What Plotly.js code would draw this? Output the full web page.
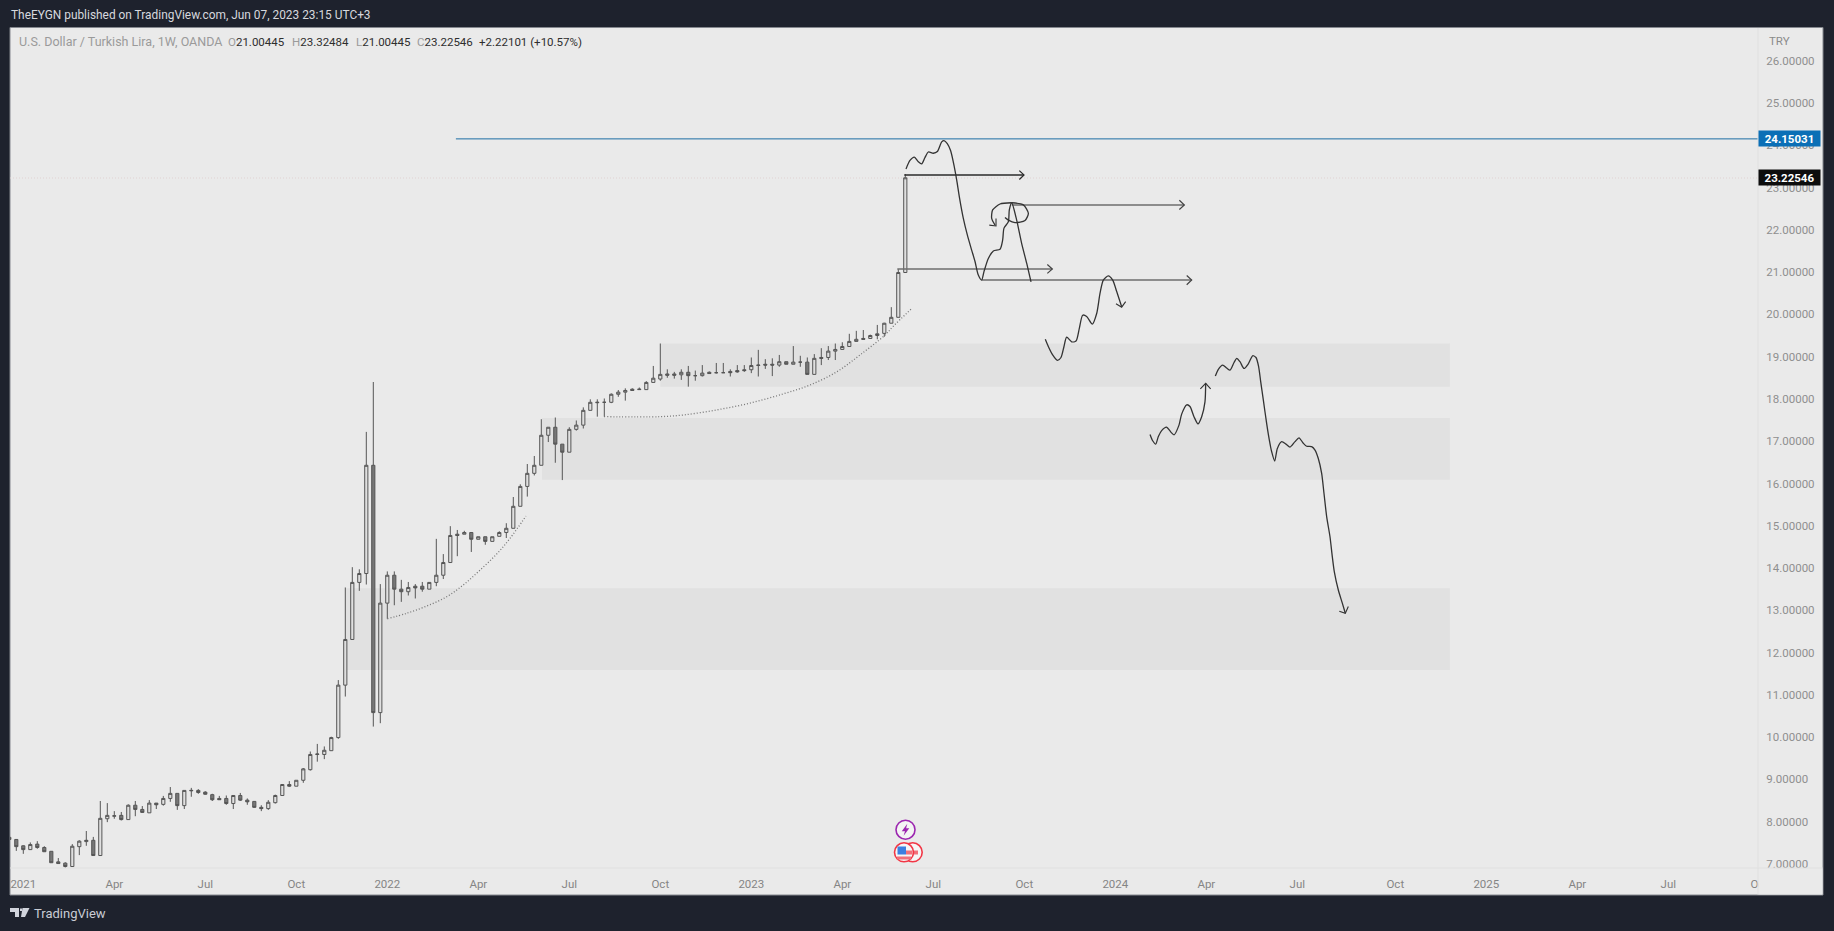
<!DOCTYPE html>
<html><head><meta charset="utf-8">
<script src="https://cdn.plot.ly/plotly-3.0.1.min.js"></script>
<style>html,body{margin:0;padding:0;background:#1e222d;overflow:hidden}#c{width:1834px;height:931px}</style>
</head><body><div id="c"></div>
<script>
// Weekly USD/TRY candles, week -1 (Dec 2020) to week 127 (Jun 2023)
const firstWeek = -1;
const open = [7.63,7.58,7.43,7.34,7.47,7.39,7.30,7.05,7.02,6.94,7.41,7.53,7.56,7.20,8.07,8.13,8.15,8.05,8.39,8.29,8.21,8.44,8.41,8.55,8.67,8.38,8.73,8.74,8.70,8.64,8.55,8.55,8.43,8.62,8.51,8.48,8.34,8.31,8.45,8.62,8.88,8.84,8.98,9.23,9.59,9.59,9.68,9.99,11.23,12.31,13.66,13.87,16.43,10.58,13.17,13.83,13.50,13.44,13.57,13.57,13.50,13.66,13.83,14.13,14.80,14.80,14.84,14.68,14.74,14.63,14.75,14.84,14.94,15.46,15.93,16.24,16.43,17.14,17.33,16.93,16.74,17.28,17.38,17.73,17.91,17.92,17.92,18.11,18.16,18.23,18.22,18.22,18.39,18.47,18.59,18.59,18.57,18.63,18.55,18.55,18.63,18.62,18.62,18.65,18.67,18.69,18.69,18.79,18.82,18.82,18.80,18.88,18.82,18.87,18.87,18.58,18.98,18.98,19.13,19.17,19.24,19.36,19.43,19.43,19.50,19.55,19.79,19.93,20.99];
const high = [7.63,7.58,7.44,7.51,7.54,7.42,7.30,7.14,7.04,7.47,7.56,7.78,7.64,8.49,8.44,8.25,8.23,8.41,8.49,8.37,8.51,8.44,8.61,8.82,8.67,8.74,8.80,8.77,8.72,8.66,8.61,8.62,8.62,8.68,8.55,8.48,8.39,8.51,8.64,8.88,8.96,8.98,9.27,9.66,9.84,9.78,10.01,11.35,13.54,14.02,13.97,17.22,18.40,13.62,13.92,13.92,13.72,13.67,13.62,13.67,13.66,14.69,14.33,14.99,14.90,14.88,14.84,14.74,14.74,14.74,14.87,15.06,15.68,15.98,16.46,16.65,17.52,17.33,17.56,16.93,17.33,17.49,17.80,17.99,17.99,18.01,18.13,18.21,18.25,18.25,18.27,18.42,18.78,19.31,18.70,18.64,18.70,18.78,18.67,18.80,18.65,18.85,18.85,18.70,18.80,18.80,18.98,19.16,18.94,18.96,19.04,18.88,19.25,19.02,18.98,19.06,19.20,19.25,19.31,19.34,19.54,19.61,19.63,19.52,19.75,19.80,20.17,21.07,23.32];
const low = [7.58,7.31,7.24,7.34,7.36,7.29,7.03,7.01,6.91,6.93,7.21,7.43,7.20,7.19,7.99,8.07,8.03,8.05,8.13,8.21,8.21,8.30,8.38,8.47,8.28,8.30,8.59,8.66,8.64,8.49,8.52,8.40,8.30,8.49,8.40,8.33,8.25,8.28,8.43,8.62,8.82,8.84,8.92,9.21,9.42,9.48,9.68,9.96,10.96,12.31,13.46,13.61,10.25,10.33,12.80,13.12,13.20,13.35,13.28,13.44,13.50,13.57,13.74,14.13,14.28,14.80,14.38,14.68,14.55,14.63,14.75,14.71,14.94,15.46,15.69,16.19,16.43,16.98,16.49,16.08,16.74,17.25,17.30,17.73,17.58,17.58,17.90,18.05,17.96,18.20,18.22,18.22,18.39,18.43,18.50,18.48,18.45,18.29,18.43,18.53,18.60,18.60,18.62,18.53,18.62,18.64,18.61,18.53,18.71,18.54,18.76,18.82,18.82,18.76,18.58,18.58,18.80,18.92,18.92,19.17,19.24,19.36,19.41,19.43,19.41,19.47,19.79,19.93,21.00];
const close = [7.58,7.41,7.34,7.46,7.39,7.29,7.03,7.01,6.94,7.42,7.54,7.56,7.20,8.08,8.15,8.14,8.05,8.39,8.29,8.22,8.44,8.40,8.55,8.67,8.38,8.74,8.74,8.69,8.65,8.52,8.52,8.43,8.62,8.51,8.47,8.34,8.31,8.46,8.62,8.88,8.84,8.98,9.25,9.59,9.60,9.69,9.99,11.23,12.31,13.66,13.87,16.43,10.58,13.17,13.83,13.50,13.44,13.54,13.53,13.50,13.66,13.83,14.13,14.77,14.77,14.84,14.68,14.74,14.63,14.74,14.84,14.94,15.46,15.93,16.24,16.43,17.14,17.33,16.93,16.74,17.28,17.38,17.73,17.92,17.92,17.92,18.11,18.16,18.20,18.20,18.23,18.39,18.49,18.58,18.56,18.56,18.63,18.55,18.55,18.61,18.60,18.62,18.62,18.62,18.64,18.67,18.79,18.80,18.80,18.80,18.88,18.82,18.87,18.87,18.58,18.96,18.96,19.13,19.17,19.24,19.36,19.41,19.41,19.50,19.54,19.79,19.93,20.99,23.23];

// Time axis
const tickWeeks = [1,14,27,40,53,66,79,92,105,118,131,144,157,170,183,197,210,223,236,249];
const tickNames = ['2021','Apr','Jul','Oct','2022','Apr','Jul','Oct','2023','Apr','Jul','Oct','2024','Apr','Jul','Oct','2025','Apr','Jul','Oct'];
const priceTicks = [7,8,9,10,11,12,13,14,15,16,17,18,19,20,21,22,23,24,25,26];

// Shaded zones
const zoneStart = [47, 75.1, 92];
const zoneEnd = [204.8, 204.8, 204.8];
const zoneTop = [13.52, 17.55, 19.31];
const zoneBottom = [11.59, 16.09, 18.29];

// Price lines
const resistancePrice = 24.15031, resistanceStart = 62.8, lastClose = 23.22546;

// Dotted arcs
const arc1X = [53,55.76,58.62,61.48,63.86,66.24,68.62,70.52,72.81];
const arc1Y = [12.80,12.93,13.10,13.32,13.60,13.95,14.33,14.70,15.23];
const arc2X = [83.96,91.96,95.29,100.05,104.81,109.58,113.39,117.2,120.53,124.1,125.29,127.8];
const arc2Y = [17.58,17.58,17.62,17.74,17.90,18.12,18.33,18.64,19.04,19.51,19.72,20.12];

// Straight arrows: start week, end week, head week, price, head top, head bottom
const arrowStart = [126.86,142.2,125.86,137.91];
const arrowEnd = [143.96,166.86,148.0,167.91];
const arrowHead = [143.29,166.15,147.29,167.2];
const arrowPrice = [23.296,22.587,21.073,20.813];
const arrowHeadHi = [23.40,22.70,21.18,20.92];
const arrowHeadLo = [23.19,22.48,20.97,20.70];
const arrowColor = ['#2a2a2a','#6e6e6e','#6e6e6e','#6e6e6e'];

// Hand-drawn path sketches
const waveAX = [127.1,127.67,128.29,128.86,129.34,129.81,130.29,131.0,131.58,132.2,132.53,133.0,133.48,134.0,134.34,134.72,135.29,135.86,136.48,136.96,137.43,137.91,138.24,138.86,139.58,140.53,140.91,141.1,141.72,141.86,142.2,142.91,143.62,144.34,144.96];
const waveAY = [23.44,23.64,23.72,23.61,23.56,23.71,23.84,23.81,23.85,24.08,24.11,24.04,23.87,23.49,23.18,22.78,22.27,21.88,21.52,21.25,20.93,20.81,21.01,21.32,21.50,21.54,21.76,22.04,22.19,22.47,22.64,22.23,21.68,21.21,20.77];
const loopAX = [142.2,140.53,139.48,139.34,139.82];
const loopAY = [22.64,22.61,22.47,22.27,22.11];
const loopHeadX = [139.0,139.96,139.96];
const loopHeadY = [22.11,22.09,22.27];
const loopBX = [142.2,143.86,144.58,144.1,142.67,141.72,141.24];
const loopBY = [22.64,22.59,22.39,22.22,22.17,22.23,22.29];
const waveBX = [147.0,147.43,148.05,148.72,149.24,149.67,150.05,150.77,151.39,151.86,152.34,152.91,153.72,154.34,154.82,155.29,156.0,156.63,157.2,157.91];
const waveBY = [19.41,19.24,19.04,18.91,18.98,19.24,19.46,19.35,19.37,19.67,19.98,19.95,19.77,20.02,20.50,20.81,20.91,20.81,20.54,20.18];
const waveBHeadX = [157.1,157.91,158.48];
const waveBHeadY = [20.25,20.17,20.30];
const waveCX = [161.96,162.34,162.77,163.15,163.62,164.34,164.91,165.39,166.1,166.48,167.2,167.67,168.24,168.81,169.34,169.81,169.91];
const waveCY = [17.16,17.01,16.93,17.11,17.25,17.33,17.22,17.15,17.38,17.64,17.86,17.82,17.58,17.41,17.58,17.93,18.37];
const waveCHeadX = [169.15,169.91,170.62];
const waveCHeadY = [18.24,18.37,18.24];
const waveDX = [171.29,171.72,172.34,172.91,173.39,173.96,174.34,174.81,175.39,176.0,176.62,177.1,177.48,177.77,178.15,178.62,179.0,179.34,179.77,180.15,180.77,181.39,181.96,182.67,183.24,183.86,184.34,185.05,185.53,186.0,186.48,186.81,187.2,187.67,188.0,188.29,188.86,189.43,189.86];
const waveDY = [18.54,18.70,18.80,18.73,18.68,18.86,18.96,18.88,18.72,18.83,19.02,18.98,18.76,18.41,17.97,17.42,17.03,16.75,16.53,16.83,16.99,16.93,16.86,16.99,17.08,16.95,16.88,16.87,16.79,16.59,16.24,15.77,15.21,14.74,14.27,13.91,13.48,13.17,12.93];
const waveDHeadX = [189.0,189.86,190.29];
const waveDHeadY = [12.98,12.93,13.09];

// Page geometry of the frame; the plot runs 2px past the price-axis divider so the
// last time tick stays in range and can be clipped like the reference.
const W = 1834, H = 931, L = 10, R = 1760, AXIS = 1758, T = 28, B = 868;
const px = v => (v - L) / (R - L);
const py = v => (B - v) / (B - T);
const weeks = open.map((_, i) => firstWeek + i);
const axisEndWeek = 248.81;

const line = (x, y, color, width, extra) => Object.assign({
  type: 'scatter', mode: 'lines', x, y, hoverinfo: 'skip', showlegend: false,
  line: Object.assign({ color, width }, extra || {})
});
const ink = '#333333';
const traces = [
  line(arc1X, arc1Y, '#777777', 1.3, { dash: '1px 2px', shape: 'spline' }),
  line(arc2X, arc2Y, '#777777', 1.3, { dash: '1px 2px', shape: 'spline' }),
  {
    type: 'candlestick', x: weeks, open, high, low, close, showlegend: false, hoverinfo: 'skip',
    whiskerwidth: 0,
    increasing: { line: { color: '#555555', width: 1 }, fillcolor: '#e0e0e0' },
    decreasing: { line: { color: '#555555', width: 1 }, fillcolor: '#777777' }
  }
];
arrowStart.forEach((s, i) => {
  traces.push(line([s, arrowEnd[i]], [arrowPrice[i], arrowPrice[i]], arrowColor[i], 1.7));
  traces.push(line([arrowHead[i], arrowEnd[i], arrowHead[i]], [arrowHeadHi[i], arrowPrice[i], arrowHeadLo[i]], i === 0 ? '#2a2a2a' : '#444444', 1.2));
});
[[waveAX, waveAY], [loopAX, loopAY], [loopBX, loopBY], [waveBX, waveBY], [waveCX, waveCY], [waveDX, waveDY]]
  .forEach(p => traces.push(line(p[0], p[1], ink, 1.3, { shape: 'spline', smoothing: 0.7 })));
[[loopHeadX, loopHeadY], [waveBHeadX, waveBHeadY], [waveCHeadX, waveCHeadY], [waveDHeadX, waveDHeadY]]
  .forEach(p => traces.push(line(p[0], p[1], ink, 1.1)));

const pageRect = (x0, y0, x1, y1, fill, layer, lineColor, lineW) => ({
  type: 'rect', xref: 'paper', yref: 'paper', x0: px(x0), x1: px(x1), y0: py(y0), y1: py(y1),
  fillcolor: fill, layer, line: { color: lineColor || fill, width: lineW === undefined ? 0 : lineW }
});
const pageCircle = (cx, cy, r, fill, stroke, w) => ({
  type: 'circle', xref: 'paper', yref: 'paper', x0: px(cx - r), x1: px(cx + r), y0: py(cy + r), y1: py(cy - r),
  fillcolor: fill, layer: 'above', line: { color: stroke, width: w }
});
const pagePath = (pts, fill) => ({
  type: 'path', xref: 'paper', yref: 'paper', layer: 'above', fillcolor: fill, line: { width: 0, color: fill },
  path: 'M' + pts.map(p => px(p[0]) + ',' + py(p[1])).join('L') + 'Z'
});

const shapes = [
  pageRect(10, 27.5, 1823, 895, '#eaeaea', 'below', '#85888f', 1),
];
zoneStart.forEach((s, i) => shapes.push({
  type: 'rect', xref: 'x', yref: 'y', x0: s, x1: zoneEnd[i], y0: zoneBottom[i], y1: zoneTop[i],
  fillcolor: '#e1e1e1', line: { width: 0 }, layer: 'below'
}));
shapes.push({ type: 'line', xref: 'x', yref: 'y', x0: -0.9, x1: axisEndWeek, y0: lastClose, y1: lastClose, layer: 'below', line: { color: '#e0d2d2', width: 1, dash: '1px 2px' } });
shapes.push({ type: 'line', xref: 'x', yref: 'y', x0: resistanceStart, x1: axisEndWeek, y0: resistancePrice, y1: resistancePrice, layer: 'above', line: { color: '#1c6ea4', width: 1 } });
// Clip the tick label running off the time axis, then the axis dividers
shapes.push(pageRect(AXIS + 0.5, B + 0.5, 1822.5, 894.5, '#eaeaea', 'above'));
shapes.push({ type: 'line', xref: 'paper', yref: 'paper', x0: px(AXIS), x1: px(AXIS), y0: py(T), y1: py(894.5), layer: 'above', line: { color: '#e0e0e0', width: 1 } });
shapes.push({ type: 'line', xref: 'paper', yref: 'paper', x0: 0, x1: px(1822.5), y0: py(B), y1: py(B), layer: 'above', line: { color: '#e0e0e0', width: 1 } });
// Event markers
shapes.push(pageCircle(905.5, 829.7, 9.5, '#f4f4f4', '#9c27b0', 1.6));
shapes.push(pagePath([[907.3, 823.7], [901.8, 831.2], [905, 831.2], [903.6, 835.7], [909.3, 828.2], [906.1, 828.2]], '#9c27b0'));
shapes.push(pageCircle(912.7, 852.3, 9.5, '#f6f6f6', '#f23645', 1.6));
shapes.push(pageRect(908, 850.5, 918, 854.5, '#f2707a', 'above'));
shapes.push(pageCircle(904, 852.3, 9.5, '#f6f6f6', '#f23645', 1.6));
shapes.push(pageRect(906, 850.5, 912.5, 854.5, '#f2707a', 'above'));
shapes.push(pageRect(897, 856.5, 911, 859.5, '#f2707a', 'above'));
shapes.push(pageRect(897.5, 846.5, 906, 854.5, '#3d7fe0', 'above'));
// Logo
shapes.push(pagePath([[10, 908], [19, 908], [19, 917], [15, 917], [15, 912], [10, 912]], '#d1d4dc'));
shapes.push(pagePath([[20, 908.5], [22, 908.5], [22, 911], [20, 911]], '#d1d4dc'));
shapes.push(pagePath([[22.5, 908], [29.5, 908], [25, 917], [21, 917]], '#d1d4dc'));

const uiFont = 'Roboto, "Liberation Sans", sans-serif';
const pageText = (text, x, y, color, size) => ({
  xref: 'paper', yref: 'paper', x: px(x), y: py(y), text, showarrow: false, xanchor: 'left', yanchor: 'middle',
  font: { family: uiFont, size: size || 11.5, color }, borderpad: 0
});
const dark = '#2e2e2e', grey = '#9a9a9a';
const val = (l, v) => '<span style="color:' + grey + '">' + l + '</span>' + v;
const priceBox = (text, y, bg) => ({
  xref: 'paper', yref: 'y', x: 1, xshift: AXIS - R, y, xanchor: 'left', yanchor: 'middle', showarrow: false,
  text: '<b>' + text + '</b>', bgcolor: bg, width: 61, height: 15, font: { family: uiFont, size: 11.5, color: '#ffffff' }, borderpad: 0
});
const annotations = [
  pageText('TheEYGN published on TradingView.com, Jun 07, 2023 23:15 UTC+3', 10, 15, '#d6d8de', 11.9),
  pageText('U.S. Dollar / Turkish Lira, 1W, OANDA', 18, 41.5, grey, 12.5),
  pageText(val('O', '21.00445'), 227, 41.5, dark, 11.5),
  pageText(val('H', '23.32484'), 291, 41.5, dark, 11.5),
  pageText(val('L', '21.00445'), 354.5, 41.5, dark, 11.5),
  pageText(val('C', '23.22546'), 416, 41.5, dark, 11.5),
  pageText('+2.22101 (+10.57%)', 478, 41.5, dark, 11.5),
  pageText('TRY', 1768, 41, '#8a8a8a', 11.5),
  pageText('TradingView', 33, 913, '#c9ccd4', 13),
  priceBox('24.15031', resistancePrice, '#0b6fb6'),
  priceBox('23.22546', lastClose, '#0d0d0d')
];

const layout = {
  width: W, height: H, paper_bgcolor: '#1e222d', plot_bgcolor: '#eaeaea',
  margin: { l: L, r: W - R, t: T, b: H - B, pad: 0 },
  showlegend: false, hovermode: false, dragmode: false, boxgap: 0.35,
  xaxis: {
    type: 'linear', range: [-0.9, 249.1], tickmode: 'array', tickvals: tickWeeks, ticktext: tickNames,
    ticks: 'outside', ticklen: 5, tickcolor: '#eaeaea', showgrid: false, zeroline: false,
    showline: false, rangeslider: { visible: false },
    tickfont: { family: uiFont, size: 11.5, color: '#858585' }
  },
  yaxis: {
    side: 'right', type: 'linear', range: [6.905, 26.773], tickmode: 'array', tickvals: priceTicks,
    tickformat: '.5f', ticks: 'outside', ticklen: 3, tickcolor: '#eaeaea', showgrid: false, zeroline: false,
    showline: false,
    tickfont: { family: uiFont, size: 11.5, color: '#8f8f8f' }
  },
  shapes, annotations
};
Plotly.newPlot('c', traces, layout, { displayModeBar: false, staticPlot: true });
</script></body></html>
